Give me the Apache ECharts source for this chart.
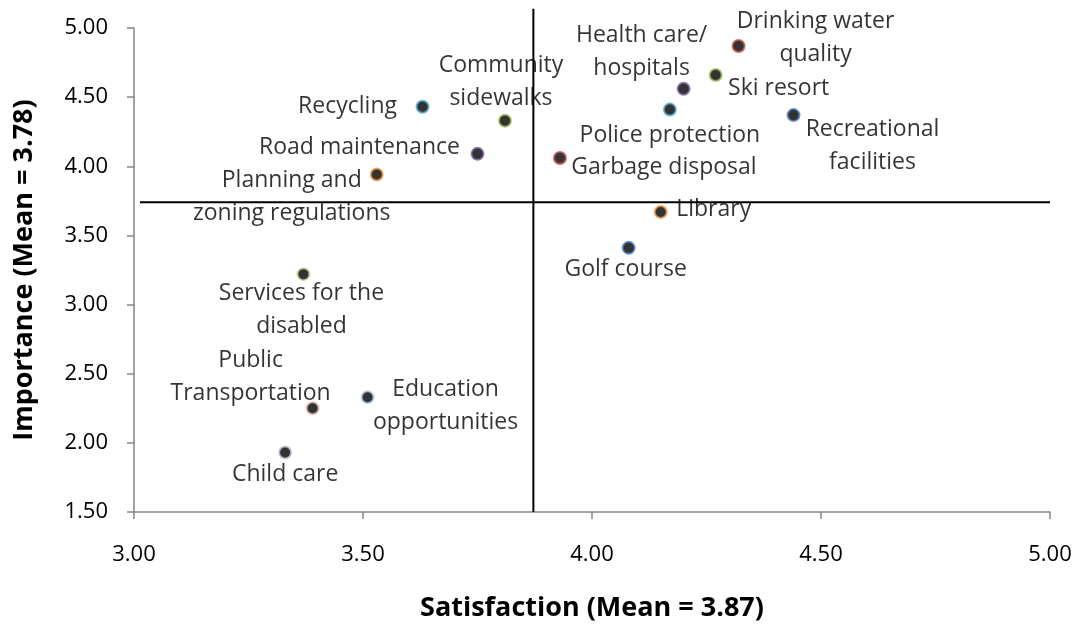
<!DOCTYPE html>
<html>
<head>
<meta charset="utf-8">
<script src="https://cdn.jsdelivr.net/npm/echarts@6/dist/echarts.min.js"></script>
<style>
  html, body { margin: 0; padding: 0; background: #fff; }
  #chart { width: 1076px; height: 629px; }
</style>
</head>
<body>
<div id="chart"></div>
<script>
// services
var names = [
  "Drinking water\nquality", "Health care/\nhospitals", "Ski resort", "Police protection",
  "Recreational\nfacilities", "Garbage disposal", "Recycling", "Community\nsidewalks",
  "Road maintenance", "Planning and\nzoning regulations", "Library", "Golf course",
  "Services for the\ndisabled", "Public\nTransportation", "Education\nopportunities", "Child care"
];
var satisfaction = [4.32, 4.20, 4.27, 4.17, 4.44, 3.93, 3.63, 3.81, 3.75, 3.53, 4.15, 4.08, 3.37, 3.39, 3.51, 3.33];
var importance   = [4.87, 4.56, 4.66, 4.41, 4.37, 4.06, 4.43, 4.33, 4.09, 3.94, 3.67, 3.41, 3.22, 2.25, 2.33, 1.93];

// mean lines
var meanSatisfaction = 3.872;
var meanImportance = 3.74;
var vLineY = [1.5, 5.14];
var hLineX = [3.013, 5.0];

// marker border colours (excel palette)
var borderColors = [
  "#C0504D", "#8064A2", "#9BBB59", "#4BACC6", "#4F81BD", "#C0504D", "#4BACC6", "#9BBB59",
  "#8064A2", "#F79646", "#F79646", "#4F81BD", "#C3D69B", "#E6B9B8", "#B9CDE5", "#CCC1DA"
];
// label offsets from the point (px)
var labelOffsets = [
  [77, -8], [-42, -37], [63, 13], [0, 26], [79, 31], [104, 9], [-75, 0], [-4, -39],
  [-118, -6], [-85, 22], [53, -2], [-3, 22], [-2, 36], [-62, -31], [78, 9], [0, 22]
];

var points = [];
for (var i = 0; i < names.length; i++) {
  points.push({
    name: names[i],
    value: [satisfaction[i], importance[i]],
    itemStyle: { color: "#000", borderColor: borderColors[i], borderWidth: 2 },
    label: { offset: labelOffsets[i] }
  });
}

var font = "'Open Sans', 'Noto Sans', sans-serif";
var myChart = echarts.init(document.getElementById("chart"));
myChart.setOption({
  animation: false,
  grid: { left: 134, right: 26, top: 28, bottom: 117 },
  xAxis: {
    type: "value",
    min: 3, max: 5, interval: 0.5,
    name: "Satisfaction (Mean = 3.87)",
    nameLocation: "middle",
    nameGap: 83,
    nameTextStyle: { fontFamily: font, fontSize: 27, fontWeight: "bold", color: "#000" },
    axisLine: { lineStyle: { color: "#868686", width: 1.5 } },
    axisTick: { show: true, length: 7, lineStyle: { color: "#868686", width: 1.5 } },
    axisLabel: {
      margin: 32, fontFamily: font, fontSize: 22, color: "#000",
      formatter: function (v) { return v.toFixed(2); }
    },
    splitLine: { show: false }
  },
  yAxis: {
    type: "value",
    min: 1.5, max: 5, interval: 0.5,
    name: "Importance (Mean = 3.78)",
    nameLocation: "middle",
    nameRotate: 90,
    nameGap: 96,
    nameTextStyle: { fontFamily: font, fontSize: 27, fontWeight: "bold", color: "#000" },
    axisLine: { show: true, lineStyle: { color: "#868686", width: 1.5 } },
    axisTick: { show: true, length: 7, lineStyle: { color: "#868686", width: 1.5 } },
    axisLabel: {
      margin: 26, fontFamily: font, fontSize: 22, color: "#000",
      formatter: function (v) { return v.toFixed(2); }
    },
    splitLine: { show: false }
  },
  series: [
    {
      type: "line",
      data: [[meanSatisfaction, vLineY[0]], [meanSatisfaction, vLineY[1]]],
      symbol: "none",
      clip: false,
      lineStyle: { color: "#000", width: 2 },
      silent: true
    },
    {
      type: "line",
      data: [[hLineX[0], meanImportance], [hLineX[1], meanImportance]],
      symbol: "none",
      clip: false,
      lineStyle: { color: "#000", width: 2 },
      silent: true
    },
    {
      type: "scatter",
      symbolSize: 12,
      data: points,
      label: {
        show: true,
        position: "inside",
        align: "center",
        verticalAlign: "middle",
        fontFamily: font,
        fontSize: 23,
        lineHeight: 33,
        color: "#000",
        formatter: function (p) { return p.name; }
      }
    }
  ]
});
</script>
</body>
</html>
